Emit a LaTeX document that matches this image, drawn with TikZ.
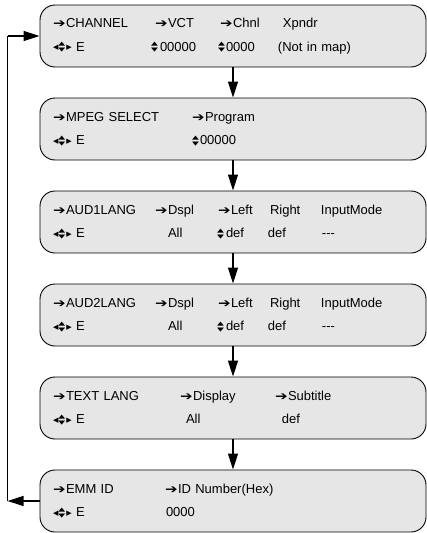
\documentclass[tikz,border=0pt]{standalone}
\usepackage{fontspec}
\usepackage{graphicx}
\setmainfont{Liberation Sans}
\newfontfamily\symf{DejaVu Sans}
\usetikzlibrary{calc,arrows.meta}

\definecolor{boxgray}{HTML}{E6E6E6}

% little key glyphs used in the menu lines
\newcommand\goarr{\makebox[13pt][l]{\symf\fontsize{15}{15}\selectfont\raisebox{-0.3pt}{\scalebox{1}[0.8]{➔}}}}
\newcommand\updnkey{\makebox[8pt][l]{\symf\fontsize{7.5}{7.5}\selectfont
  \rlap{\raisebox{5.3pt}{\scalebox{1.2}[0.72]{▲}}}\raisebox{-0.4pt}{\scalebox{1.2}[0.72]{▼}}}}
\newcommand\sidekey[1]{{\symf\fontsize{7}{7}\selectfont\raisebox{1.6pt}{#1}}}
\newcommand\navkeys{\sidekey{◀}\updnkey\sidekey{▶}}
\newcommand\col[2]{\makebox[#1pt][l]{#2}}

\tikzset{
  menubox/.style={draw, line width=0.9pt, fill=boxgray, rounded corners=15pt,
    minimum width=386pt, minimum height=62pt, text width=360pt, inner xsep=13pt,
    align=left, font=\fontsize{13}{23.4}\selectfont},
  flow/.style={line width=1.3pt, -{Triangle[length=16pt,width=10pt]}}
}

\begin{document}
\begin{tikzpicture}[x=1pt,y=-1pt]
        \useasboundingbox (0,0) rectangle (427,533);

        % Menu screens
        \node[menubox] (chan) at (233,36)
          {\col{102}{\goarr CHANNEL}\col{65}{\goarr VCT}\col{63}{\goarr Chnl}Xpndr\\
           \col{98}{\navkeys\ E}\col{67}{\updnkey\hspace{1pt}00000}\col{60}{\updnkey 0000}(Not in map)};
        \node[menubox] (mpeg) at (233,129)
          {\col{139}{\goarr MPEG SELECT}\goarr Program\\
           \col{139}{\navkeys\ E}\updnkey 00000};
        \node[menubox] (aud1) at (233,222)
          {\col{102}{\goarr AUD1LANG}\col{63}{\goarr Dspl}\col{52}{\goarr Left}\col{51}{Right}InputMode\\
           \col{115}{\navkeys\ E}\col{49}{All}\col{51}{\updnkey\hspace{1pt}def}\col{54}{def}-{}-{}-};
        \node[menubox] (aud2) at (233,315)
          {\col{102}{\goarr AUD2LANG}\col{63}{\goarr Dspl}\col{52}{\goarr Left}\col{51}{Right}InputMode\\
           \col{115}{\navkeys\ E}\col{49}{All}\col{51}{\updnkey\hspace{1pt}def}\col{54}{def}-{}-{}-};
        \node[menubox] (text) at (233,408)
          {\col{127}{\goarr TEXT LANG}\col{95}{\goarr Display}\goarr Subtitle\\
           \col{133}{\navkeys\ E}\col{96}{All}def};
        \node[menubox] (emm) at (233,501)
          {\col{112}{\goarr EMM ID}\goarr ID Number(Hex)\\
           \col{113}{\navkeys\ E}0000};

        % Down the chain
        \draw[flow] (chan) -- (mpeg);
        \draw[flow] (mpeg) -- (aud1);
        \draw[flow] (aud1) -- (aud2);
        \draw[flow] (aud2) -- (text);
        \draw[flow] (text) -- (emm);

        % Back to the top
        \coordinate (loopb) at ($(emm.west)+(-32,0)$);
        \coordinate (loopt) at ($(chan.west)+(-32,0)$);
        \draw[flow] (emm.west) -- (loopb);
        \draw[line width=1.3pt] (loopb) -- (loopt);
        \draw[flow] (loopt) -- (chan.west);
\end{tikzpicture}
\end{document}
